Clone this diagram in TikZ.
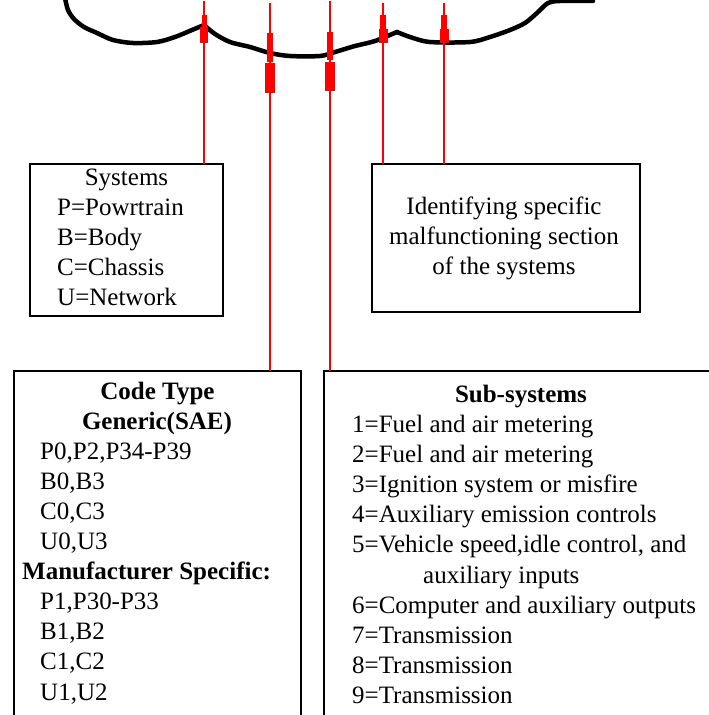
\documentclass[tikz,border=0pt]{standalone}
\usepackage{fontspec}
\setmainfont{Liberation Serif}
\begin{document}
\begin{tikzpicture}[x=1pt,y=-1pt,
  box/.style={draw=black, line width=1.5pt, inner sep=0pt, outer sep=0pt},
  txt/.style={inner sep=0pt, font=\fontsize{25}{30}\selectfont},
  lt/.style={txt, anchor=base west},
  ct/.style={txt, anchor=base},
  bt/.style={txt, anchor=base, font=\fontsize{25}{30}\selectfont\bfseries},
  cloudline/.style={line width=4.5pt, line cap=round, line join=round},
  redline/.style={draw=red, line width=2pt},
  redblock/.style={fill=red}]
\useasboundingbox (0,0) rectangle (709,715);
\clip (0,0) rectangle (709,715);
\fill[white] (0,0) rectangle (709,715);

% cloud
\draw[cloudline] plot[smooth, tension=0.5] coordinates {(65,-2) (68,10) (74,19) (84,27) (97,33) (113,40) (133,43) (157,42) (175,37) (192,30) (204,25)};
\draw[cloudline] plot[smooth, tension=0.5] coordinates {(204,25) (215,34) (230,42) (250,47) (270,53) (290,56) (320,56) (335,52) (355,46) (375,41) (397,32)};
\draw[cloudline] plot[smooth, tension=0.5] coordinates {(397,32) (410,37) (430,42) (470,42) (490,37) (510,30) (525,23) (537,13) (548,3) (560,1) (593,1)};

% boxes
\node[box, minimum width=193pt, minimum height=152pt] (sys) at (126.5,240) {};
\node[box, minimum width=268pt, minimum height=148pt] (ident) at (506,238) {};
\node[box, minimum width=287pt, minimum height=380pt] (code) at (157.5,561) {};
\node[box, minimum width=420pt, minimum height=380pt] (sub) at (534,561) {};

% cloud anchor points
\coordinate (c1) at (204,1);
\coordinate (c2) at (270,3);
\coordinate (c3) at (330,1);
\coordinate (c4) at (383,3);
\coordinate (c5) at (444,3);

% red connectors
\draw[redline] (sys.north -| c1) -- (c1);
\draw[redline] (code.north -| c2) -- (c2);
\draw[redline] (sub.north -| c3) -- (c3);
\draw[redline] (ident.north -| c4) -- (c4);
\draw[redline] (ident.north -| c5) -- (c5);

\fill[redblock] (201.5,15) rectangle (206.5,27);
\fill[redblock] (200,27) rectangle (208,43);
\fill[redblock] (267,33) rectangle (273,62);
\fill[redblock] (265,63) rectangle (275,93);
\fill[redblock] (327,32) rectangle (333,60);
\fill[redblock] (325,62) rectangle (335,91);
\fill[redblock] (380,15) rectangle (386,29);
\fill[redblock] (378.5,29) rectangle (387.5,43);
\fill[redblock] (441,15) rectangle (447,29);
\fill[redblock] (439.5,29) rectangle (448.5,43);

% Systems box text
\node[ct] (s0) at (126.5,185) {Systems};
\node[lt] (s1) at (57,215) {P=Powrtrain};
\node[lt] (s2) at (57,245) {B=Body};
\node[lt] (s3) at (57,275) {C=Chassis};
\node[lt] (s4) at (57,305) {U=Network};

% Identifying box text
\node[ct] (i1) at (504,214) {Identifying specific};
\node[ct] (i2) at (504,244) {malfunctioning section};
\node[ct] (i3) at (504,274) {of the systems};

% Code Type box text
\node[bt] (k0) at (157.5,399) {Code Type};
\node[bt] (k1) at (157,429) {Generic(SAE)};
\node[lt] (k2) at (40,459) {P0,P2,P34-P39};
\node[lt] (k3) at (40,489) {B0,B3};
\node[lt] (k4) at (40,519) {C0,C3};
\node[lt] (k5) at (40,549) {U0,U3};
\node[lt, font=\fontsize{25}{30}\selectfont\bfseries] (k6) at (22,579) {Manufacturer Specific:};
\node[lt] (k7) at (40,609) {P1,P30-P33};
\node[lt] (k8) at (40,639) {B1,B2};
\node[lt] (k9) at (40,669) {C1,C2};
\node[lt] (k10) at (40,700) {U1,U2};

% Sub-systems box text
\node[bt] (u0) at (521,402) {Sub-systems};
\node[lt] (u1) at (352,432) {1=Fuel and air metering};
\node[lt] (u2) at (352,462) {2=Fuel and air metering};
\node[lt] (u3) at (352,492) {3=Ignition system or misfire};
\node[lt] (u4) at (352,522) {4=Auxiliary emission controls};
\node[lt] (u5) at (352,552) {5=Vehicle speed,idle control, and};
\node[lt] (u5b) at (423,583) {auxiliary inputs};
\node[lt] (u6) at (352,613) {6=Computer and auxiliary outputs};
\node[lt] (u7) at (352,643) {7=Transmission};
\node[lt] (u8) at (352,673) {8=Transmission};
\node[lt] (u9) at (352,703) {9=Transmission};
\end{tikzpicture}
\end{document}
